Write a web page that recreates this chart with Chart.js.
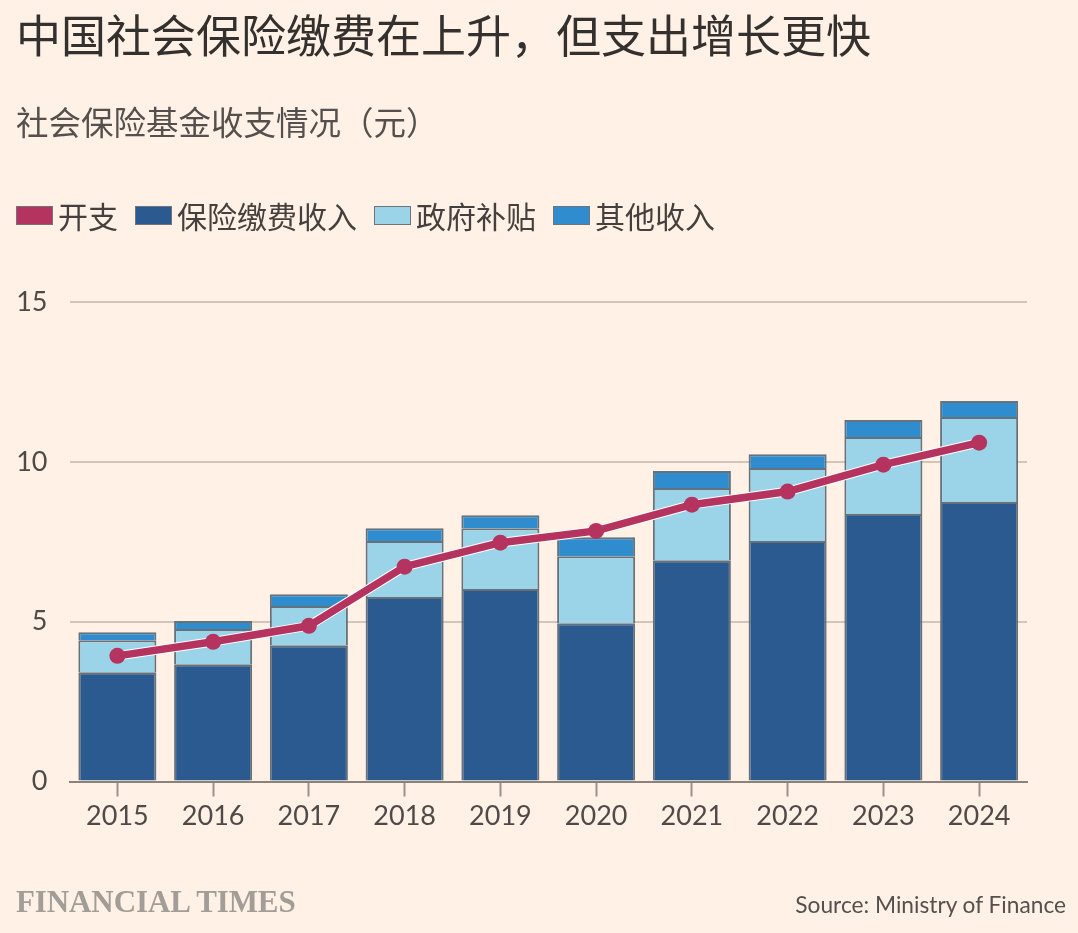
<!DOCTYPE html>
<html lang="zh">
<head>
<meta charset="utf-8">
<script src="https://cdn.jsdelivr.net/npm/chart.js@4"></script>
<style>
  html, body { margin: 0; padding: 0; background: #fff1e5; }
  body { position: relative; width: 1078px; height: 933px; overflow: hidden; color: #45403d; font-family: "Noto Sans CJK SC", sans-serif; }
  canvas { position: absolute; left: 0; top: 0; }
  .txt { position: absolute; white-space: nowrap; line-height: 1; }
  #title { left: 16px; top: 11px; font-size: 45px; font-weight: 400; color: #33302e; }
  #subtitle { left: 16px; top: 105px; font-size: 32.5px; font-weight: 400; color: #55504d; }
  #legend { position: absolute; left: 16px; top: 198px; display: flex; align-items: center; height: 34px; font-size: 30px; font-weight: 400; }
  #legend .key { width: 35px; height: 17px; border: 1px solid #6f7478; margin-right: 5px; margin-top: 0; }
  #legend .lab { margin-right: 17px; }
  #ft { left: 16px; top: 884px; font: bold 31px "Liberation Serif", serif; color: #a39d97; letter-spacing: -0.1px; }
  #source { right: 12px; top: 891px; font: 22.7px "Lato", sans-serif; color: #55504d; }
</style>
</head>
<body>
<canvas id="fundChart" width="1078" height="933"></canvas>
<div class="txt" id="title">中国社会保险缴费在上升，但支出增长更快</div>
<div class="txt" id="subtitle">社会保险基金收支情况（元）</div>
<div id="legend"></div>
<div class="txt" id="ft">FINANCIAL TIMES</div>
<div class="txt" id="source">Source: Ministry of Finance</div>
<script>
const years = ['2015', '2016', '2017', '2018', '2019', '2020', '2021', '2022', '2023', '2024'];
const spending = [3.93, 4.37, 4.87, 6.72, 7.47, 7.84, 8.66, 9.07, 9.91, 10.6];
const contributions = [3.42, 3.67, 4.26, 5.77, 6.02, 4.95, 6.92, 7.52, 8.37, 8.74];
const subsidies = [1.0, 1.1, 1.23, 1.75, 1.9, 2.1, 2.26, 2.29, 2.41, 2.66];
const otherIncome = [0.25, 0.25, 0.37, 0.4, 0.41, 0.59, 0.53, 0.43, 0.53, 0.5];
const yTicks = [0, 5, 10, 15];

const spendingColor = '#b5345f';
const barEdge = '#66717a';
const textColor = '#4f4a47';

// Legend is plain html so it can sit above the chart like the original
const legendItems = [
    ['开支', spendingColor],
    ['保险缴费收入', '#2a5a90'],
    ['政府补贴', '#9bd3e9'],
    ['其他收入', '#2f8dcf']
];
const legendEl = document.getElementById('legend');
legendItems.forEach(function (item) {
    const key = document.createElement('span');
    key.className = 'key';
    key.style.background = item[1];
    const lab = document.createElement('span');
    lab.className = 'lab';
    lab.textContent = item[0];
    legendEl.appendChild(key);
    legendEl.appendChild(lab);
});

function barSet(label, values, color) {
    return {
        type: 'bar',
        label: label,
        data: values,
        backgroundColor: color,
        borderColor: barEdge,
        borderWidth: 2,
        barPercentage: 0.815,
        categoryPercentage: 1,
        stack: 'income',
        order: 3
    };
}

new Chart(document.getElementById('fundChart').getContext('2d'), {
    data: {
        labels: years,
        datasets: [
            // thin white casing under the spending line
            { type: 'line', label: 'casing', data: spending, stack: 'casing', borderColor: '#ffffff', borderWidth: 9.5, pointRadius: 0, tension: 0, order: 2 },
            { type: 'line', label: '开支', data: spending, stack: 'spending', borderColor: spendingColor, backgroundColor: spendingColor, borderWidth: 7.5, pointRadius: 8, pointBorderWidth: 0, tension: 0, order: 1 },
            barSet('保险缴费收入', contributions, '#2a5a90'),
            barSet('政府补贴', subsidies, '#9bd3e9'),
            barSet('其他收入', otherIncome, '#2f8dcf')
        ]
    },
    options: {
        responsive: false,
        animation: false,
        layout: { padding: { top: 302, right: 51, bottom: 0, left: 0 } },
        plugins: { legend: { display: false }, title: { display: false }, tooltip: { enabled: false } },
        scales: {
            x: {
                stacked: true,
                afterFit: function (scale) { scale.height = 151.5; },
                border: { color: '#8b827c', width: 2 },
                grid: { offset: false, drawOnChartArea: false, tickLength: 15, tickColor: '#9a918b', tickWidth: 2 },
                ticks: { color: textColor, padding: 4, maxRotation: 0, font: { family: 'Lato', size: 27 } }
            },
            y: {
                stacked: true,
                min: 0,
                max: 15,
                afterFit: function (scale) { scale.width = 69.5; },
                afterBuildTicks: function (scale) { scale.ticks = yTicks.map(function (v) { return { value: v }; }); },
                border: { display: false },
                grid: { color: '#d2c6b9', lineWidth: 2, drawTicks: false },
                ticks: { color: textColor, padding: 22, font: { family: 'Lato', size: 27 } }
            }
        }
    }
});
</script>
</body>
</html>
